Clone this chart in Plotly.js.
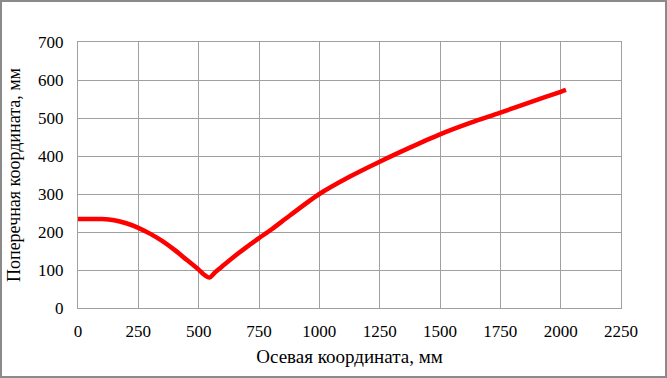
<!DOCTYPE html>
<html>
<head>
<meta charset="utf-8">
<script src="https://cdn.plot.ly/plotly-3.0.1.min.js"></script>
<style>
  html, body { margin: 0; padding: 0; background: #fff; }
  #wrap { position: relative; width: 667px; height: 378px; }
  #chart { width: 667px; height: 378px; }
  #frame { position: absolute; left: 0; top: 0; width: 663px; height: 374px; border: 2px solid #8a8a8a; pointer-events: none; }
</style>
</head>
<body>
<div id="wrap">
  <div id="chart"></div>
  <div id="frame"></div>
</div>
<script>
const axialX = [0, 50, 100, 150, 200, 250, 300, 350, 400, 450, 500, 520, 544, 570, 600, 650, 700, 750, 800, 879, 1000, 1127, 1250, 1375, 1500, 1625, 1750, 1875, 2000, 2022];
const transverseY = [234, 234, 234, 231, 223, 211, 195, 176, 153, 127, 101, 89, 80, 95, 111, 137, 161, 184, 206, 244, 300, 346, 385, 422, 457, 487, 514, 542, 569, 574];
const xTicks = [0, 250, 500, 750, 1000, 1250, 1500, 1750, 2000, 2250];
const yTicks = [0, 100, 200, 300, 400, 500, 600, 700];
const xTitle = 'Осевая координата, мм';
const yTitle = 'Поперечная координата, мм';

const serif = 'Liberation Serif';

Plotly.newPlot('chart', [{
  x: axialX,
  y: transverseY,
  type: 'scatter',
  mode: 'lines',
  line: { color: '#ff0000', width: 4.5, shape: 'spline', smoothing: 0.8 },
  hoverinfo: 'none'
}], {
  width: 667,
  height: 378,
  margin: { l: 78, r: 46, t: 42, b: 70 },
  paper_bgcolor: '#ffffff',
  plot_bgcolor: '#ffffff',
  showlegend: false,
  font: { family: serif, color: '#000', size: 17 },
  xaxis: {
    range: [0, 2250],
    tickmode: 'array',
    tickvals: xTicks,
    ticktext: xTicks.map(String),
    ticks: '',
    ticklabelstandoff: 8,
    showgrid: true,
    gridcolor: '#a0a0a0',
    gridwidth: 1,
    zeroline: false,
    showline: true,
    linecolor: '#a0a0a0',
    linewidth: 1,
    mirror: true,
    tickfont: { family: serif, size: 17, color: '#000' },
    title: { text: xTitle, font: { family: serif, size: 19, color: '#000' }, standoff: 9 }
  },
  yaxis: {
    range: [0, 700],
    tickmode: 'array',
    tickvals: yTicks,
    ticktext: yTicks.map(String),
    ticks: '',
    ticklabelstandoff: 10,
    showgrid: true,
    gridcolor: '#a0a0a0',
    gridwidth: 1,
    zeroline: false,
    showline: true,
    linecolor: '#a0a0a0',
    linewidth: 1,
    mirror: true,
    tickfont: { family: serif, size: 17, color: '#000' },
    title: { text: yTitle, font: { family: serif, size: 18, color: '#000' }, standoff: 12 }
  }
}, { displayModeBar: false, staticPlot: true });
</script>
</body>
</html>
